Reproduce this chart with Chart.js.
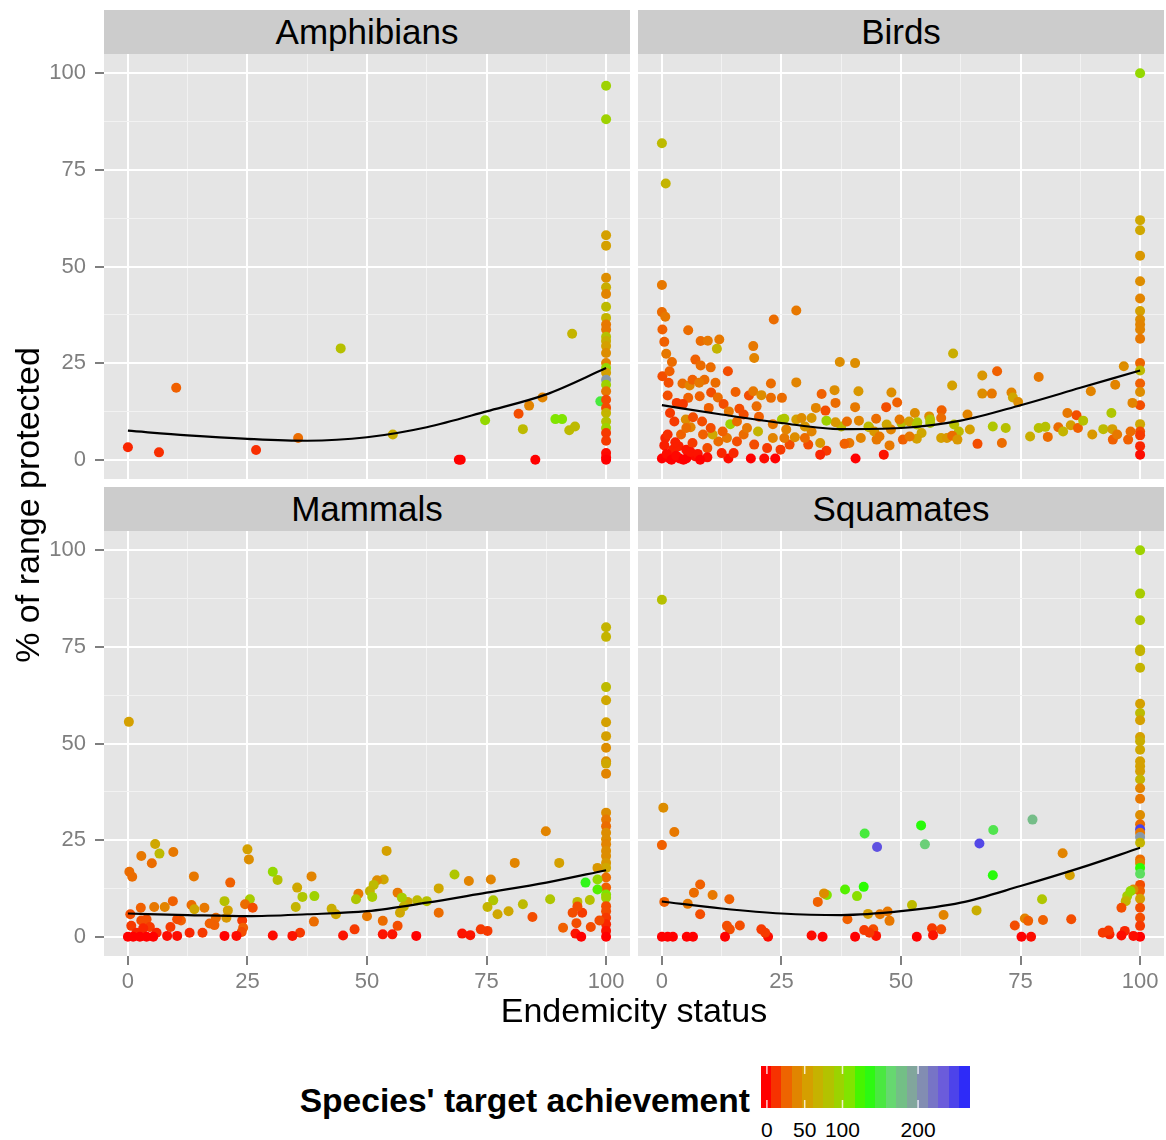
<!DOCTYPE html>
<html>
<head>
<meta charset="utf-8">
<script src="https://cdn.jsdelivr.net/npm/chart.js@4.4.0/dist/chart.umd.min.js"></script>
<style>
body { margin: 0; background: #fff; width: 1166px; height: 1140px; position: relative; overflow: hidden;
       font-family: "Liberation Sans", Arial, Helvetica, sans-serif; }
canvas { position: absolute; }
.strip { position: absolute; background: #CCCCCC; height: 44px; line-height: 44px; text-align: center;
         font-size: 35px; color: #000; }
.txt { position: absolute; white-space: nowrap; }
</style>
</head>
<body>
<div class="strip" style="left:104px;top:10px;width:526px">Amphibians</div>
<div class="strip" style="left:638px;top:10px;width:526px">Birds</div>
<div class="strip" style="left:104px;top:487px;width:526px">Mammals</div>
<div class="strip" style="left:638px;top:487px;width:526px">Squamates</div>

<canvas id="amphibiansChart" width="630" height="425" style="left:0;top:54px"></canvas>
<canvas id="birdsChart" width="526" height="425" style="left:638px;top:54px"></canvas>
<canvas id="mammalsChart" width="630" height="469" style="left:0;top:531px"></canvas>
<canvas id="squamatesChart" width="526" height="469" style="left:638px;top:531px"></canvas>

<div class="txt" style="left:104px;top:993px;width:1060px;text-align:center;font-size:34px;line-height:34px">Endemicity status</div>
<div class="txt" style="left:-223px;top:488px;width:500px;height:34px;text-align:center;font-size:34px;line-height:34px;transform:rotate(-90deg)">% of range protected</div>
<div class="txt" style="right:416px;top:1084px;font-size:33.6px;line-height:33px;font-weight:bold">Species' target achievement</div>
<canvas id="colourBar" width="209" height="42" style="left:761px;top:1066px"></canvas>
<div id="colourLabels"></div>

<script>
// valeurs : [endemicity, % protected, target achievement]
const xTicks = [0, 25, 50, 75, 100];
const yTicks = [0, 25, 50, 75, 100];
const minorTicks = [12.5, 37.5, 62.5, 87.5];
const fitX = [0, 12.5, 25, 37.5, 50, 62.5, 75, 87.5, 100];
const colourTicks = [0, 50, 100, 200];

const amphibiansFit = [7.5, 6.3, 5.4, 4.9, 5.8, 8.4, 12.5, 16.9, 23.7];
const birdsFit = [14.1, 11.7, 9.5, 7.9, 8.2, 10.1, 14.1, 18.6, 23.1];
const mammalsFit = [6.0, 5.6, 5.3, 5.8, 6.6, 8.8, 11.4, 14.0, 17.2];
const squamatesFit = [9.1, 7.3, 6.0, 5.6, 6.6, 8.8, 13.1, 17.8, 23.0];

const amphibians = [
  [0,3.2,10],[6.5,1.9,12],[10.1,18.6,25],[26.8,2.5,12],[35.6,5.6,30],[44.5,28.8,80],[55.4,6.5,65],
  [69.2,0,0],[69.6,0,0],[74.7,10.2,100],[81.7,11.9,20],[82.6,7.9,75],[83.9,14,40],[85.2,0,0],
  [86.7,16.1,40],[89.4,10.5,110],[90.8,10.5,110],[92.3,7.6,75],[93.5,8.6,75],[92.9,32.6,70],[98.8,15.1,150],
  [100,96.8,95],[100,88.1,95],[100,58.1,55],[100,55.4,55],[100,47.1,45],[100,44.6,65],[100,42.9,40],
  [100,39.6,75],[100,36.7,70],[100,35,35],[100,33.7,35],[100,31.8,80],[100,30.7,65],[100,29.4,55],
  [100,27.6,45],[100,25,40],[100,23.7,100],[100,22.5,55],[100,20.7,200],[100,19.4,95],[100,17.7,35],
  [100,15.5,20],[100,13.4,20],[100,12.1,70],[100,9.9,80],[100,8.2,95],[100,6.9,15],[100,4.9,15],
  [100,1.7,3],[100,0.6,2],[100,0,0]
];

const birds = [
  [100,100,100],[0,81.9,75],[0.8,71.5,70],
  [100,62,60],[100,59.4,60],[100,52.8,50],[100,46.2,45],[100,41.7,40],[100,38.5,55],[100,36.3,45],
  [100,35,40],[100,33.7,40],[100,31.3,35],[100,25,28],[100,23.1,75],[100,19.7,25],[100,17.5,45],
  [100,14.1,20],[100,9.2,60],[100,7.3,20],[100,6.3,15],[100,3.5,10],[100,1.3,3],
  [0,45.2,35],[0,38.2,30],[0.7,37,35],[0.1,33.7,25],[0.5,30.5,25],[0.9,27.4,35],[2.1,25.3,30],
  [0.1,21.6,20],[1.6,22.9,25],[1.4,19.9,20],[1.2,16.6,20],
  [5.5,33.5,30],[8.1,30.7,30],[9.6,30.8,35],[12,31.1,35],[11.5,28.7,70],[7,25.9,25],[8.1,24.4,30],
  [10.2,23.9,30],[13.8,22.9,20],[19.1,29.4,35],[19.3,26.3,40],[23.4,36.3,30],[28.1,38.6,35],
  [4.3,19.7,30],[5.8,19.2,40],[6.4,20.7,25],[8.9,20.7,30],[7.8,19.9,35],[11.2,19.9,30],[10.3,17.4,20],
  [7.9,16.4,25],[5.5,16,25],[3.1,14.7,15],[4.4,14.4,15],[1.7,12.1,15],[2.6,9.9,15],[5,10.4,45],
  [6,8.4,40],[6.5,11,20],[8.4,9.9,20],[9.8,13.4,25],[11.7,16.1,30],[12.9,14.4,20],[14,12.5,35],
  [15.4,17.5,25],[16.2,13.2,20],[17.1,11.7,20],[18.2,16.6,20],[19.1,17.7,35],[19.8,13.8,30],
  [20.8,16.7,45],[20.3,11.1,25],[22.8,19.7,30],[22.8,16,30],[25.1,16,30],[28.1,20,40],[33.4,17,25],
  [36.1,18,45],[36.3,14.7,30],[37.2,25.3,45],[40.4,25,45],[41.1,17.7,50],[32.2,13.4,40],[40.4,13.6,35],
  [46.9,13.6,20],[49.2,14.8,25],[48,17.4,45],[44.8,10.6,30],[52.9,12.1,45],[55.9,11.2,45],[58.5,12.8,25],
  [60.9,27.5,65],[60.7,19.2,55],[63.9,11.7,40],[67,21.8,50],[67,17.1,45],[69,17.1,35],[70.1,22.9,25],
  [73.1,17.4,40],[73.4,16.1,60],[74.5,14.9,45],[78.8,21.4,35],[84.8,12.1,35],[86.7,11.5,20],
  [89.7,17.7,40],[94,12.1,85],[94.8,19.4,40],[96.6,24.2,45],[98.4,14.7,40],
  [69.2,8.6,85],[71.9,8.2,80],[77,6,65],[78.8,8.2,80],[80.2,8.5,80],[80.7,5.9,30],[82.9,8.4,30],
  [83.9,7.3,70],[85.5,8.9,55],[87,8.2,25],[88.1,10.1,80],[90,6.5,50],[92.3,7.9,75],[94.2,7.9,55],
  [94.3,5.2,25],[95.2,6.5,35],[97.5,5.2,25],[98,7.3,30],[66,4.1,20],[71.1,4.3,30],[61.1,9.1,80],
  [62.1,7.3,75],[64.4,7.8,55],[58.4,5.6,55],[59.6,5.6,50],[60.7,6.2,30],[61.8,5.2,50],[56.1,10.4,80],
  [53.4,9.7,85],[54.3,6.9,60],[53.3,5.4,55],[50.4,5.2,25],[51.8,6,35],[50.1,9.5,80],[49.7,10.4,35],
  [47.9,7.8,40],[47,9.1,60],[47.6,3.7,35],[46.4,1.3,5],[40.5,0.3,0],[44.9,5.2,35],[43.3,8.4,60],
  [41.6,5.6,40],[39.2,4.3,35],[38.2,4.1,25],[37.5,8.6,75],[36.3,9.7,50],[34.4,10.1,95],[34.2,12.7,20],
  [34.4,2.3,15],[33.1,1.3,10],[33.1,4.3,50],[30.6,3.9,20],[31.3,7.3,40],[29.9,8.6,50],[28.1,10.4,55],
  [26.7,3.9,20],[25.6,5.6,35],[25.1,10.4,90],[24.8,2.6,15],[23.7,0.3,0],[21.4,0.3,3],[22,3,15],
  [23.2,5.6,40],[23.2,9.2,35],[20.1,7.3,70],[18.6,0.3,0],[19.3,3.9,20],[17.1,6.5,30],[15.7,4.7,20],
  [14.3,9.2,95],[13.6,5.6,35],[13.9,0.3,3],[15,1.7,10],[12.5,1.7,10],[11.8,4.7,30],[10.6,6.5,60],
  [9.5,3,20],[9.5,0.6,3],[6.9,0.9,3],[5.1,0.3,0],[3.7,0.3,0],[1.6,0.3,0],[0,0.3,0],[0.7,5.6,10],
  [0.5,3.7,8],[2.3,2.6,8],[3.5,3.5,8],[5.1,2.6,5],[6.4,4.3,15],[4,6.5,25],[5.1,8.2,30],[8.6,6.5,25],
  [10.2,8.2,20],[12.7,7.3,25],[15.7,9.9,30],[17.8,8.2,35],[26,7.8,40],[27.8,5.8,45],[29.2,10.8,45],
  [31.3,10.8,50],[38.7,9.9,30],[41.2,10.1,40],[43.2,8.6,75],[44.4,7.3,50],[45.5,6,35],[51.7,9.9,55],
  [53.3,9.1,85],[58.4,10.8,30],[56.1,9.5,85],[25.6,10.6,85],[29.9,5.6,30],
  [1,1.5,3],[2,0,0],[3,1,2],[4.5,0,0],[6,2,5],[7.5,1.5,5],[8,0,0],[2.8,4.5,8],[1.2,6.5,12]
];

const mammals = [
  [0.2,55.6,55],
  [100,80.1,70],[100,77.6,70],[100,64.6,75],[100,61.2,60],[100,55.5,55],[100,51.9,55],[100,48.9,45],
  [100,45.4,45],[100,44.8,60],[100,42.2,40],[100,32.1,45],[100,30.3,35],[100,28.6,30],[100,26.9,45],
  [100,25.2,45],[100,23.9,40],[100,22.2,45],[100,20.9,45],[100,19.1,50],[100,17.8,60],[100,15.3,30],
  [100,12.7,25],[100,10.9,110],[100,10.1,95],[100,7.9,20],[100,6.6,20],[100,4.9,15],[100,3.2,10],
  [100,1.5,5],[100,0,0],
  [98.2,14.8,100],[95.7,14,140],[98.2,12.2,120],[96.6,9.5,80],[94,9,75],[93,6.2,20],[95,6.2,15],
  [94,7.8,20],[93.8,3.5,20],[96.8,2.5,20],[93.6,0.8,5],[94.8,0,0],[98.6,4.2,20],[98.2,17.8,50],
  [87.4,27.3,40],[90.2,19.1,55],[88.3,9.7,85],[91,2.3,25],[84.6,5.1,20],[82.6,8.4,75],[80.9,19.1,40],
  [79.6,6.6,60],[77.3,5.8,60],[76.4,9.4,85],[75.9,14.8,40],[75.2,7.7,70],[75.2,1.5,15],[73.8,1.9,15],
  [71.6,0.4,5],[69.9,0.8,5],[71.3,14.4,40],[68.3,16.1,85],[65,12.5,60],[65,6.2,30],[62.5,9.2,80],
  [60.5,9.4,75],[58.5,9,60],[60.3,0.2,0],[56.4,11.4,35],[57.3,10.1,90],[57.7,7.8,70],[56.9,6.2,60],
  [56.4,2.8,20],[55.3,0.6,5],[53.3,4.1,30],[53.3,0.6,5],[54.1,22.2,55],[53.5,14.8,60],[52.1,14.6,45],
  [51.4,13.4,75],[50.6,11.8,70],[51.1,10.3,90],[48.2,11.1,35],[47.7,9.7,85],[50,5.3,35],[47.4,1.9,15],
  [45,0.3,5],[42.6,7.2,65],[43.5,5.8,60],[38.9,3.9,30],[39,10.5,95],[36.5,10.3,85],[35.1,7.7,70],
  [35.4,12.7,60],[38.4,15.6,40],[31.3,14.7,80],[30.3,16.8,100],[36,1,15],[34.4,0.2,5],[30.3,0.3,3],
  [25.5,9.7,90],[24.5,8.4,30],[26.1,7.5,20],[25,22.6,55],[25.3,20,45],[23.9,4.2,15],[24.1,2.3,25],
  [23.8,1.2,20],[22.7,0.2,3],[21.4,14,25],[20.2,9.2,80],[20.9,6.8,55],[20.6,4.9,50],[20.2,0.2,0],
  [18.4,4.9,30],[18.1,3,25],[17.1,3.4,25],[16,7.5,35],[15.6,1,15],[13.8,15.6,35],[13.3,8.2,30],
  [13.9,7.1,60],[12.9,1,10],[11.1,4.2,25],[10.3,4.5,20],[9.4,9.2,25],[9.5,21.9,35],[10.3,0.2,3],
  [8.2,0.2,3],[8.9,2.5,15],[7.7,7.7,40],[6.6,21.5,75],[5.7,24,60],[5,19,30],[2.8,20.9,35],[5.5,7.7,35],
  [2.7,7.5,25],[0.3,16.8,30],[0.9,15.5,30],[0.5,5.8,20],[0.7,2.8,15],[2.8,4.2,20],[3.9,4.5,20],
  [4.6,2.5,15],[3.2,2.2,10],[6,1,10],[1.8,1,10],[0,0,0],[1.1,0,0],[2.5,0,0],[3.9,0,0],[5.3,0,0]
];

const squamates = [
  [100,100,95],[100,88.8,90],[100,81.9,85],[100,74.3,75],[100,73.9,70],[100,69.6,70],[100,60.3,55],
  [100,57.9,75],[100,56,55],[100,51.7,55],[100,50.6,65],[100,48.4,60],[100,45.4,55],[100,44.1,55],
  [100,42.8,55],[100,40.7,70],[100,38.4,40],[100,35.7,35],[100,31.5,45],[100,29.1,30],[100,27.8,250],
  [100,26.9,35],[100,25.8,200],[100,24.3,70],[100,20,30],[100,19.1,40],[100,17.8,130],[100,16.3,160],
  [100,13.4,20],[100,11.8,25],[100,9.8,55],[100,7.5,20],[100,4.9,20],[100,2.8,15],[100,0,0],
  [98.6,12.2,45],[97.3,10.5,90],[98,11.8,100],[97,9.2,70],[96.1,7.5,20],[96.8,1.5,10],[98.6,0.2,3],
  [96.1,0.3,3],[93.6,0.6,10],[92.2,1,15],[93.4,1.6,15],[85.6,4.5,20],[85.3,15.9,55],[83.8,21.6,40],
  [79.5,9.7,85],[79.7,4.3,25],[77.5,30.3,180],[75.9,4.7,40],[76.6,4.1,25],[73.8,2.9,20],[75.2,0,0],
  [77.2,0,3],[69.3,27.6,155],[69.2,15.9,135],[66.4,24.1,245],[65.8,6.8,65],[58.9,5.6,40],[58.4,1.9,20],
  [56.5,2.2,15],[56.7,0.4,5],[53.3,0,0],[52.3,8.2,75],[55,23.9,170],[54.2,28.8,135],[47.6,4.1,35],
  [47.2,6.5,35],[45.6,5.8,35],[45,23.2,240],[43.1,5.9,55],[44.2,1.9,20],[44.8,0.2,5],[43.4,1,15],
  [42.3,1.7,15],[42.4,26.7,150],[42.2,12.9,130],[40.8,10.5,105],[38.3,12.2,120],[38.8,4.5,25],
  [40.4,0,0],[34.5,10.8,110],[33.9,11.2,45],[32.6,9,25],[33.6,0,0],[31.3,0.3,3],[22.2,0,3],
  [21.6,1,15],[20.8,1.9,15],[16.3,2.9,20],[14.2,1.9,20],[13.6,2.8,20],[13.2,0,0],[14.1,9.7,25],
  [10.6,10.8,35],[8,13.5,25],[6.7,11.4,30],[5.4,8.5,35],[8,5.8,20],[6.5,0,0],[5.2,0,0],[2.3,0,0],
  [1.2,0,0],[0,0,0],[0.5,9,25],[0,23.7,25],[0.3,33.4,45],[2.6,27.1,35],[0,87.2,80]
];

// échelle de couleur (gradient type ggplot)
const colourStops = [
  [0, '#FF0000'], [25, '#F06000'], [40, '#E28400'], [55, '#D4A000'], [70, '#C4B400'],
  [90, '#A8CC00'], [110, '#80E400'], [132, '#22FF00'], [165, '#66D870'], [200, '#8899A8'],
  [235, '#6A5ADC'], [268, '#2020FF']
];
const colourMin = -7.8, colourMax = 268.7;

function hexToRgb(h) {
    return [parseInt(h.slice(1, 3), 16), parseInt(h.slice(3, 5), 16), parseInt(h.slice(5, 7), 16)];
}

function achievementColour(t) {
    if (t <= colourStops[0][0]) return colourStops[0][1];
    for (let i = 1; i < colourStops.length; i++) {
        if (t <= colourStops[i][0]) {
            const a = hexToRgb(colourStops[i - 1][1]);
            const b = hexToRgb(colourStops[i][1]);
            const f = (t - colourStops[i - 1][0]) / (colourStops[i][0] - colourStops[i - 1][0]);
            const c = a.map((v, k) => Math.round(v + (b[k] - v) * f));
            return `rgb(${c[0]},${c[1]},${c[2]})`;
        }
    }
    return colourStops[colourStops.length - 1][1];
}

Chart.defaults.font.family = '"Liberation Sans", Arial, Helvetica, sans-serif';

const panelBackground = {
    id: 'panelBackground',
    beforeDraw(chart) {
        const a = chart.chartArea;
        const ctx = chart.ctx;
        ctx.save();
        ctx.fillStyle = '#E5E5E5';
        ctx.fillRect(a.left, a.top, a.right - a.left, a.bottom - a.top);
        ctx.restore();
    }
};

function buildAxis(direction, show) {
    const major = direction === 'x' ? xTicks : yTicks;
    const all = major.concat(minorTicks).sort((a, b) => a - b);
    const isMajor = c => c.tick && major.includes(c.tick.value);
    return {
        type: 'linear',
        min: -5,
        max: 105,
        afterBuildTicks: scale => { scale.ticks = all.map(v => ({ value: v })); },
        afterFit: scale => {
            if (direction === 'x') scale.height = show ? 44 : 0;
            else scale.width = show ? 104 : 0;
            // pas de marge automatique autour du panneau
            scale.paddingTop = 0;
            scale.paddingBottom = 0;
            scale.paddingLeft = 0;
            scale.paddingRight = 0;
        },
        border: { display: false },
        grid: {
            color: c => isMajor(c) ? '#FFFFFF' : '#F2F2F2',
            lineWidth: c => isMajor(c) ? 2 : 1,
            drawTicks: show,
            tickLength: 9,
            tickWidth: 2,
            tickColor: c => isMajor(c) ? '#7F7F7F' : 'rgba(0,0,0,0)'
        },
        ticks: {
            display: show,
            autoSkip: false,
            maxRotation: 0,
            color: '#7F7F7F',
            font: { size: 22 },
            padding: direction === 'x' ? 4 : 9,
            callback: v => major.includes(v) ? String(v) : ''
        }
    };
}

function makePanel(canvasId, points, fit, showX, showY) {
    const ctx = document.getElementById(canvasId).getContext('2d');
    return new Chart(ctx, {
        type: 'scatter',
        data: {
            datasets: [
                {
                    data: fitX.map((x, i) => ({ x: x, y: fit[i] })),
                    showLine: true,
                    borderColor: '#000000',
                    borderWidth: 2.2,
                    pointRadius: 0,
                    cubicInterpolationMode: 'monotone',
                    order: 0
                },
                {
                    data: points.map(p => ({ x: p[0], y: p[1] })),
                    pointBackgroundColor: points.map(p => achievementColour(p[2])),
                    pointBorderWidth: 0,
                    pointRadius: 5,
                    order: 1
                }
            ]
        },
        options: {
            responsive: false,
            animation: false,
            events: [],
            layout: { padding: 0, autoPadding: false },
            plugins: { legend: { display: false }, tooltip: { enabled: false } },
            scales: {
                x: buildAxis('x', showX),
                y: buildAxis('y', showY)
            }
        },
        plugins: [panelBackground]
    });
}

makePanel('amphibiansChart', amphibians, amphibiansFit, false, true);
makePanel('birdsChart', birds, birdsFit, false, false);
makePanel('mammalsChart', mammals, mammalsFit, true, true);
makePanel('squamatesChart', squamates, squamatesFit, true, false);

// barre de couleur de la légende
function drawColourBar() {
    const canvas = document.getElementById('colourBar');
    const ctx = canvas.getContext('2d');
    const w = canvas.width, h = canvas.height, bins = 20;
    const toPx = v => (v - colourMin) / (colourMax - colourMin) * w;
    for (let i = 0; i < bins; i++) {
        const v = colourMin + (i + 0.5) * (colourMax - colourMin) / bins;
        ctx.fillStyle = achievementColour(v);
        ctx.fillRect(Math.floor(i * w / bins), 0, Math.ceil(w / bins) + 1, h);
    }
    ctx.strokeStyle = 'rgba(255,255,255,0.8)';
    ctx.lineWidth = 1.5;
    const labels = document.getElementById('colourLabels');
    colourTicks.forEach(v => {
        const x = toPx(v);
        ctx.beginPath();
        ctx.moveTo(x, 0); ctx.lineTo(x, 8);
        ctx.moveTo(x, h - 8); ctx.lineTo(x, h);
        ctx.stroke();
        const d = document.createElement('div');
        d.className = 'txt';
        d.textContent = v;
        d.style.cssText = `left:${761 + x - 30}px;top:1119px;width:60px;text-align:center;font-size:21px;line-height:21px;color:#000`;
        labels.appendChild(d);
    });
}
drawColourBar();
</script>
</body>
</html>
